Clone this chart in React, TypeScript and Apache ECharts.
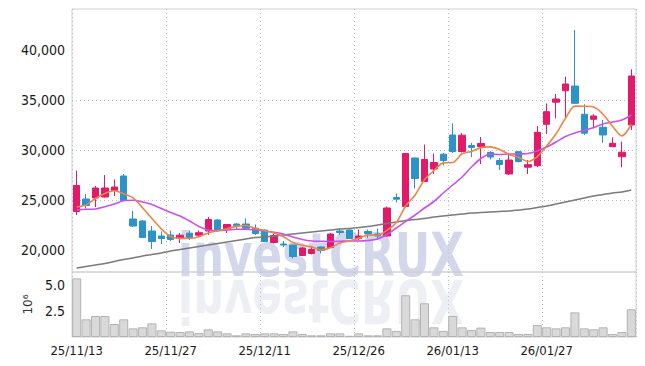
import React, { useEffect, useRef } from "react";
import * as echarts from "echarts";

const dates = [
  "25/11/13","25/11/14","25/11/17","25/11/18","25/11/19","25/11/20","25/11/21","25/11/24","25/11/25","25/11/26",
  "25/11/27","25/11/28","25/12/01","25/12/02","25/12/03","25/12/04","25/12/05","25/12/08","25/12/09","25/12/10",
  "25/12/11","25/12/12","25/12/15","25/12/16","25/12/17","25/12/18","25/12/19","25/12/22","25/12/23","25/12/24",
  "25/12/26","25/12/29","25/12/30","26/01/02","26/01/05","26/01/06","26/01/07","26/01/08","26/01/09","26/01/12",
  "26/01/13","26/01/14","26/01/15","26/01/16","26/01/19","26/01/20","26/01/21","26/01/22","26/01/23","26/01/26",
  "26/01/27","26/01/28","26/01/29","26/01/30","26/02/02","26/02/03","26/02/04","26/02/05","26/02/06","26/02/09",
];

const opens = [
  23850,25100,25200,25300,25950,27400,23100,22900,21900,21400,
  21500,21200,21680,21480,21900,23000,22070,22600,22600,22180,
  22000,20750,20600,20500,19450,19650,20300,20250,21900,22000,
  21150,21850,21600,21400,25250,24350,29200,26850,28100,29580,
  31500,29850,30450,30350,29750,28950,27600,29830,28280,28430,
  32570,34780,35930,36400,33570,33070,32270,30330,29330,32500,
];
const closes = [
  26450,24450,26200,26200,26300,24950,22400,21250,20850,21150,
  21050,21480,21250,21730,23050,22050,22550,22420,22180,21650,
  20850,21450,20500,19350,20200,20050,19950,21600,21750,21150,
  21400,21650,21400,24200,25080,29650,27150,29050,28750,28950,
  29850,31480,30250,30650,29300,28550,29000,28850,28530,31770,
  33830,35100,36600,34670,31680,33400,31500,30670,29780,37400,
];
const lows = [
  23500,24150,24300,25250,25400,24900,22300,21200,20100,20600,
  20900,20700,21000,21250,21500,21950,21700,22100,22080,21500,
  20800,20650,20300,19150,19400,19550,19650,20200,21500,21100,
  21000,21200,21050,21350,24750,24250,26150,26800,27600,28450,
  29700,29750,29300,28600,29050,28000,27500,28750,27600,28270,
  31600,33170,33170,34600,31500,32170,30730,30300,28270,32000,
];
const highs = [
  27950,25600,26400,27500,27050,27600,23900,23000,22400,21850,
  21950,21700,21950,21950,23300,23100,22600,22680,23150,22550,
  22050,21650,20900,20550,20300,20330,20350,21700,22150,22050,
  22050,22050,22150,24350,25650,29700,29250,30550,29650,29700,
  32650,31700,30700,31300,29900,29200,29500,29900,29000,32400,
  34650,35600,37330,42000,34570,33570,33000,31270,30830,38070,
];

const ma5 = [
  24300,24500,25150,25650,25920,25620,25210,24220,23150,22120,
  21340,21160,21160,21330,21710,21910,22130,22360,22450,22170,
  21930,21710,21330,20760,20470,20310,20010,20230,20710,20900,
  21170,21510,21470,21960,22750,24400,25500,27030,27940,28710,
  28750,29620,29860,30240,30310,30050,29550,29270,28850,29340,
  30400,31620,33170,34390,34380,34290,33570,32380,31410,32550,
];
const ma20 = [
  24000,24070,24100,24330,24600,24930,24970,24800,24550,24150,
  23750,23400,22900,22350,22000,21950,22000,22070,22070,22000,
  21900,21770,21600,21300,21050,20900,20870,20850,20870,20900,
  20900,20950,21100,21550,22200,22870,23500,24200,24850,25700,
  26500,27300,28300,29150,29600,29550,29600,29600,29650,29900,
  30300,30800,31350,31700,31950,32250,32600,32800,33000,33500,
];
const ma120 = [
  18200,18350,18500,18650,18850,19050,19200,19400,19550,19700,
  19900,20050,20200,20350,20500,20650,20800,20950,21100,21250,
  21300,21400,21500,21600,21700,21800,21900,22000,22100,22150,
  22250,22350,22500,22650,22800,22950,23050,23150,23300,23400,
  23500,23600,23700,23750,23800,23850,23900,24000,24100,24250,
  24400,24600,24800,25000,25200,25400,25550,25700,25800,26000,
];

const volumes = [
  5.64,1.70,2.02,2.02,1.25,1.70,0.83,0.93,1.31,0.64,
  0.51,0.48,0.54,0.38,0.74,0.54,0.35,0.16,0.35,0.29,
  0.35,0.35,0.29,0.54,0.29,0.16,0.16,0.35,0.35,0.12,
  0.35,0.16,0.16,0.83,0.58,4.01,1.70,3.24,0.93,0.58,
  2.02,0.93,0.67,0.90,0.48,0.48,0.48,0.29,0.29,1.15,
  0.93,0.83,0.93,2.37,0.83,0.74,0.93,0.29,0.48,2.66,
];

const priceTicks = [20000, 25000, 30000, 35000, 40000];
const volumeTicks = [2.5, 5.0];
const watermarkText = "investCRUX";

const UP = "#e3196a";
const DOWN = "#2b93c8";
const FONT = "'DejaVu Sans Condensed', 'DejaVu Sans', sans-serif";
const WM_FONT = "bold 60px 'DejaVu Sans'";
const GRIDLINE = { type: [1, 3] as any, color: "#b9bfd8", width: 1 };

function measure(text: string, font: string): number {
  const c = document.createElement("canvas").getContext("2d");
  if (!c) return 360;
  c.font = font;
  return c.measureText(text).width;
}

export default function App() {
  const ref = useRef<HTMLDivElement>(null);

  useEffect(() => {
    if (!ref.current) return;
    const chart = echarts.init(ref.current, null, { renderer: "svg" });
    const candleData = dates.map((_, i) => [opens[i], closes[i], lows[i], highs[i]]);
    const wmScale = 286 / measure(watermarkText, WM_FONT);

    const option: any = {
      animation: false,
      backgroundColor: "#fff",
      grid: [
        { left: 72, right: 9, top: 9, height: 263, show: true, borderColor: "#d0d0d0", borderWidth: 1 },
        { left: 72, right: 9, top: 272, height: 65, show: true, borderColor: "#d0d0d0", borderWidth: 1 },
      ],
      xAxis: [
        {
          type: "category", gridIndex: 0, data: dates, boundaryGap: true,
          axisLine: { show: false },
          axisTick: { show: false, alignWithLabel: true, interval: 9 },
          axisLabel: { show: false, interval: 9 },
          splitLine: { show: true, interval: 9, lineStyle: GRIDLINE },
        },
        {
          type: "category", gridIndex: 1, data: dates, boundaryGap: true,
          axisLine: { show: false },
          axisTick: { show: false, alignWithLabel: true, interval: 9 },
          axisLabel: { show: true, interval: 9, margin: 7, color: "#1a1a1a", fontFamily: FONT, fontSize: 13 },
          splitLine: { show: true, interval: 9, lineStyle: GRIDLINE },
        },
      ],
      yAxis: [
        {
          type: "value", gridIndex: 0, min: 17800, max: 44100, scale: true,
          axisLine: { show: false },
          axisTick: { show: false, customValues: priceTicks },
          axisLabel: {
            customValues: priceTicks, margin: 7, color: "#1a1a1a", fontFamily: FONT, fontSize: 14,
            formatter: (v: number) => v.toLocaleString("en-US"),
          },
          splitLine: { show: true, showMinLine: false, showMaxLine: false, lineStyle: GRIDLINE },
        },
        {
          type: "value", gridIndex: 1, min: 0, max: 6.25,
          name: "10⁶", nameLocation: "middle", nameGap: 33, nameRotate: 90,
          nameTextStyle: { color: "#333", fontSize: 12, fontFamily: "DejaVu Sans" },
          axisLine: { show: false },
          axisTick: { show: false, customValues: volumeTicks },
          axisLabel: {
            customValues: volumeTicks, margin: 7, color: "#1a1a1a", fontFamily: FONT, fontSize: 14,
            formatter: (v: number) => v.toFixed(1),
          },
          splitLine: { show: true, showMinLine: false, showMaxLine: false, lineStyle: GRIDLINE },
        },
      ],
      graphic: [
        {
          type: "text", x: 178, y: 285, scaleX: wmScale, z: -10, silent: true,
          style: { text: watermarkText, font: WM_FONT, fill: "rgba(180,189,224,0.6)", verticalAlign: "bottom", align: "left" },
        },
        {
          type: "text", x: 178, y: 271, scaleX: wmScale, scaleY: -1, z: -10, silent: true,
          style: { text: watermarkText, font: WM_FONT, fill: "rgba(195,200,222,0.3)", verticalAlign: "bottom", align: "left" },
        },
      ],
      series: [
        {
          type: "candlestick", xAxisIndex: 0, yAxisIndex: 0, data: candleData, barWidth: 7,
          itemStyle: { color: UP, color0: DOWN, borderColor: UP, borderColor0: DOWN, borderWidth: 1 },
        },
        { type: "line", xAxisIndex: 0, yAxisIndex: 0, data: ma120, symbol: "none", smooth: 0.3, lineStyle: { color: "#7a7a7a", width: 1.5 } },
        { type: "line", xAxisIndex: 0, yAxisIndex: 0, data: ma20, symbol: "none", smooth: 0.3, lineStyle: { color: "#c752ea", width: 1.6 } },
        { type: "line", xAxisIndex: 0, yAxisIndex: 0, data: ma5, symbol: "none", smooth: 0.3, lineStyle: { color: "#ef8448", width: 1.6 } },
        {
          type: "bar", xAxisIndex: 1, yAxisIndex: 1, data: volumes, barCategoryGap: "4%",
          itemStyle: { color: "#d9d9d9", borderColor: "#b3b3b3", borderWidth: 1 },
        },
      ],
    };
    chart.setOption(option);
    return () => chart.dispose();
  }, []);

  return <div ref={ref} style={{ width: 645, height: 366, position: "absolute", left: 0, top: 0 }} />;
}
